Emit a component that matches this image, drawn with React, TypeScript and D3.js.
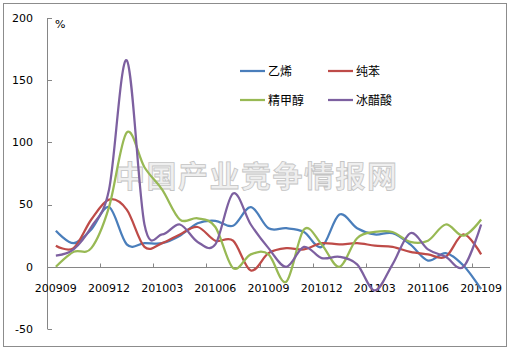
import { useEffect, useRef } from 'react';
import * as d3 from 'd3';

const months = [
  '200909', '200910', '200911', '200912', '201001', '201002', '201003', '201004', '201005',
  '201006', '201007', '201008', '201009', '201010', '201011', '201012', '201101', '201102',
  '201103', '201104', '201105', '201106', '201107', '201108', '201109',
];
const ethylene = [29, 19, 30, 48, 18, 19, 19, 25, 35, 37, 33, 48, 31, 31, 28, 16, 42, 31, 26, 27, 18, 5, 11, 1, -18];
const benzene = [17, 15, 38, 54, 46, 16, 19, 26, 32, 21, 21, -3, 11, 15, 14, 19, 18, 19, 17, 16, 12, 10, 8, 26, 10];
const methanol = [0, 12, 15, 48, 108, 80, 62, 38, 39, 32, -1, 10, 10, -12, 30, 18, 0, 23, 28, 28, 20, 21, 34, 25, 38];
const aceticAcid = [9, 14, 32, 62, 166, 34, 26, 34, 20, 18, 59, 34, 15, 0, 16, 7, 8, 2, -19, 2, 27, 14, 8, 0, 34];
const yTicks = [-50, 0, 50, 100, 150, 200];

const series = [
  { name: '乙烯', values: ethylene, color: '#4a7ebb' },
  { name: '纯苯', values: benzene, color: '#be4b48' },
  { name: '精甲醇', values: methanol, color: '#98b954' },
  { name: '冰醋酸', values: aceticAcid, color: '#7d60a0' },
];

export default function App() {
  const svgRef = useRef<SVGSVGElement | null>(null);
  const width = 513;
  const height = 351;

  useEffect(() => {
    if (!svgRef.current) return;
    const svg = d3.select(svgRef.current);
    svg.selectAll('*').remove();

    const font = '"DejaVu Sans", Verdana, sans-serif';
    const axisColor = '#868686';

    svg.append('rect')
      .attr('width', width).attr('height', height).attr('fill', '#fff');
    svg.append('rect')
      .attr('x', 3.5).attr('y', 3.5).attr('width', 503).attr('height', 343)
      .attr('fill', 'none').attr('stroke', '#8c8c8c');

    const x = d3.scaleBand<string>().domain(months).range([47, 490]);
    const y = d3.scaleLinear().domain([-50, 200]).range([329, 18]);
    const cx = (i: number) => (x(months[i]) as number) + x.bandwidth() / 2;

    // watermark
    svg.append('text')
      .attr('x', 115).attr('y', 187)
      .attr('textLength', 282)
      .attr('font-family', '"Noto Sans CJK SC", sans-serif')
      .attr('font-size', 30).attr('font-weight', 'bold')
      .attr('fill', '#efefef').attr('stroke', '#c4c4c4').attr('stroke-width', 0.8)
      .text('中国产业竞争情报网');

    // y axis
    svg.append('line')
      .attr('x1', 47.5).attr('x2', 47.5).attr('y1', y(200)).attr('y2', y(-50))
      .attr('stroke', axisColor);
    yTicks.forEach(t => {
      svg.append('line')
        .attr('x1', 47.5).attr('x2', 52).attr('y1', Math.round(y(t)) + 0.5).attr('y2', Math.round(y(t)) + 0.5)
        .attr('stroke', axisColor);
      svg.append('text')
        .attr('x', 33).attr('y', y(t)).attr('dy', '0.35em')
        .attr('text-anchor', 'end').attr('font-family', font).attr('font-size', 11)
        .attr('fill', '#000').text(t);
    });
    svg.append('text')
      .attr('x', 55).attr('y', 28).attr('font-family', font).attr('font-size', 11)
      .text('%');

    // x axis
    const y0 = Math.round(y(0)) + 0.5;
    svg.append('line')
      .attr('x1', 47).attr('x2', 490).attr('y1', y0).attr('y2', y0)
      .attr('stroke', axisColor);
    for (let i = 3; i <= months.length; i += 3) {
      const tx = Math.round(47 + i * x.step()) + 0.5;
      svg.append('line')
        .attr('x1', tx).attr('x2', tx).attr('y1', y0).attr('y2', y0 - 4)
        .attr('stroke', axisColor);
    }
    months.forEach((m, i) => {
      if (i % 3 !== 0) return;
      svg.append('text')
        .attr('x', cx(i)).attr('y', 292)
        .attr('text-anchor', 'middle').attr('font-family', font).attr('font-size', 11)
        .text(m);
    });

    // lines
    const line = d3.line<number>()
      .x((_, i) => cx(i))
      .y(d => y(d))
      .curve(d3.curveCardinal.tension(0));
    series.forEach(s => {
      svg.append('path')
        .attr('d', line(s.values))
        .attr('fill', 'none').attr('stroke', s.color).attr('stroke-width', 2.25);
    });

    // legend
    const legendPos = [[240, 71], [328, 71], [240, 100], [328, 100]];
    series.forEach((s, i) => {
      const [lx, ly] = legendPos[i];
      svg.append('line')
        .attr('x1', lx).attr('x2', lx + 25).attr('y1', ly).attr('y2', ly)
        .attr('stroke', s.color).attr('stroke-width', 2.25);
      svg.append('text')
        .attr('x', lx + 28).attr('y', ly).attr('dy', '0.38em')
        .attr('font-family', '"Noto Sans CJK SC", sans-serif').attr('font-size', 12)
        .text(s.name);
    });
  }, []);

  return (
    <div style={{ position: 'absolute', left: 0, top: 0 }}>
      <svg ref={svgRef} width={width} height={height} style={{ display: 'block' }}></svg>
    </div>
  );
}
